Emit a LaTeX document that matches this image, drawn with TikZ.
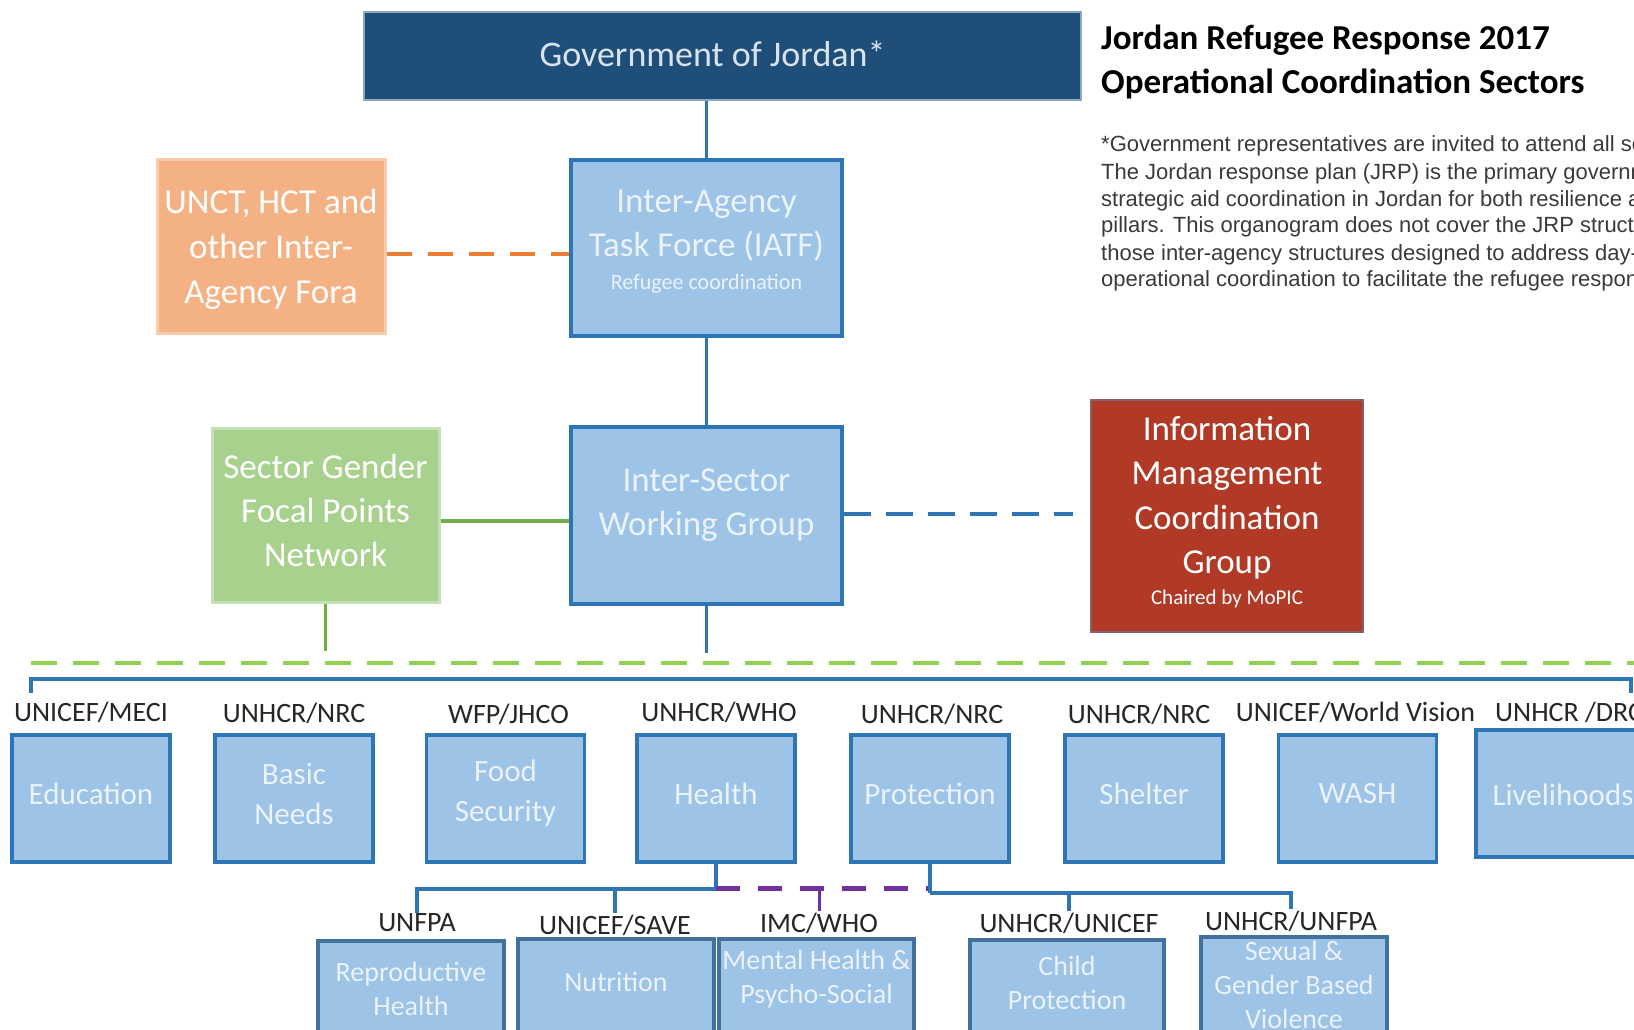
\documentclass[tikz,border=0pt]{standalone}
\usepackage{fontspec}
\setmainfont{Carlito}
\newfontfamily\notefont{Liberation Sans}
\usetikzlibrary{calc}
\definecolor{boxblue}{HTML}{9DC3E6}
\definecolor{lineblue}{HTML}{2E75B6}
\definecolor{darkline}{HTML}{41719C}
\definecolor{boxtext}{HTML}{EAF2FA}
\definecolor{govblue}{HTML}{1F4E79}
\definecolor{govedge}{HTML}{8EA6C2}
\definecolor{govtext}{HTML}{D9E3EE}
\definecolor{orangefill}{HTML}{F4B183}
\definecolor{orangeedge}{HTML}{F8CBAD}
\definecolor{orangeline}{HTML}{ED7D31}
\definecolor{greenfill}{HTML}{A9D18E}
\definecolor{greenedge}{HTML}{C5E0B4}
\definecolor{greenline}{HTML}{70AD47}
\definecolor{greendash}{HTML}{92D050}
\definecolor{redfill}{HTML}{B13A27}
\definecolor{rededge}{HTML}{86606E}
\definecolor{purpleline}{HTML}{7030A0}
\definecolor{lbltext}{HTML}{262626}
\definecolor{notetext}{HTML}{3A3A3A}
\tikzset{
  bluebox/.style={draw=lineblue, line width=3.5pt, fill=boxblue, inner sep=0pt},
  bigbox/.style={bluebox, minimum width=271, minimum height=176},
  bigtxt/.style={text=boxtext, align=center, inner sep=0pt, font=\fontsize{35}{44}\selectfont},
  secbox/.style={bluebox, minimum width=158, minimum height=127},
  sectxt/.style={text=boxtext, align=center, inner sep=0pt, font=\fontsize{31}{40}\selectfont, yshift=5pt},
  subbox/.style={bluebox, draw=darkline, anchor=north, minimum height=140},
  subtxt/.style={text=boxtext, align=center, inner sep=0pt, font=\fontsize{28}{34}\selectfont},
  lbl/.style={text=lbltext, inner sep=1pt, font=\fontsize{28}{32}\selectfont},
  conn/.style={draw=lineblue, line width=3.5pt},
  notes/.style={anchor=base west, inner sep=0pt, text=notetext, font=\notefont\fontsize{22}{27}\selectfont},
  ttl/.style={anchor=base west, inner sep=0pt, text=black, font=\bfseries\fontsize{35}{44}\selectfont}
}
\begin{document}
\begin{tikzpicture}[x=1pt,y=-1pt]
\useasboundingbox (0,0) rectangle (1634,1030);
\clip (0,0) rectangle (1634,1030);
\fill[white] (0,0) rectangle (1634,1030);

% top boxes
\node[draw=govedge, line width=2pt, fill=govblue, minimum width=717, minimum height=88, inner sep=0pt,
      label={[text=govtext, inner sep=0pt, font=\fontsize{36}{42}\selectfont, xshift=-10pt, yshift=2pt]center:Government of Jordan*}] (gov) at (722.5,56) {};
\node[bigbox, label={[bigtxt, yshift=6.5pt]center:Inter-Agency\\Task Force (IATF)\\[-11pt]{\fontsize{22}{26}\selectfont Refugee coordination}}] (iatf) at (706.5,248) {};
\node[draw=orangeedge, line width=3pt, fill=orangefill, inner sep=0pt, minimum width=228, minimum height=173,
      label={[text=white, align=center, inner sep=0pt, font=\fontsize{35}{45}\selectfont, yshift=-3pt]center:UNCT, HCT and\\other Inter-\\Agency Fora}] (unct) at (271,246.5) {};
\node[draw=greenedge, line width=3pt, fill=greenfill, inner sep=0pt, minimum width=227, minimum height=174,
      label={[text=white, align=center, inner sep=0pt, font=\fontsize{35}{44}\selectfont, yshift=5pt]center:Sector Gender\\Focal Points\\Network}] (sgfpn) at (325.5,515) {};
\node[bigbox, minimum height=177, label={[bigtxt, yshift=10.5pt]center:Inter-Sector\\Working Group}] (iswg) at (706.5,515.5) {};
\node[draw=rededge, line width=2pt, fill=redfill, inner sep=0pt, minimum width=272, minimum height=232,
      label={[text=white, align=center, inner sep=0pt, font=\fontsize{35}{44.5}\selectfont, yshift=4pt]center:Information\\Management\\Coordination\\Group\\[-14pt]{\fontsize{21}{26}\selectfont Chaired by MoPIC}}] (im) at (1227,516) {};

% title and note
\node[ttl] (t1) at (1101,50) {Jordan Refugee Response 2017};
\node[ttl] (t2) at (1101,94) {Operational Coordination Sectors};
\node[notes] (n1) at (1101,152) {*Government representatives are invited to attend all sector meetings.};
\node[notes] (n2) at (1101,179) {The Jordan response plan (JRP) is the primary government-led};
\node[notes] (n3) at (1101,206) {strategic aid coordination in Jordan for both resilience and};
\node[notes] (n4) at (1101,233) {pillars. This organogram does not cover the JRP structure};
\node[notes] (n5) at (1101,260) {those inter-agency structures designed to address day-to-day};
\node[notes] (n6) at (1101,286) {operational coordination to facilitate the refugee response.};

% upper connectors
\draw[conn] (iatf.north) -- (iatf.north |- gov.south);
\draw[conn] (iatf.south) -- (iswg.north);
\draw[draw=orangeline, line width=4.5pt, dash pattern=on 25pt off 16pt] (unct.east |- 0,254) -- (iatf.west |- 0,254);
\draw[draw=greenline, line width=3.5pt] (sgfpn.east |- 0,521) -- (iswg.west |- 0,521);
\coordinate (imend) at (1073,514);
\draw[draw=lineblue, line width=4pt, dash pattern=on 27pt off 15pt] (iswg.east |- imend) -- (imend);
\coordinate (gstop) at (327,651);
\draw[draw=greenline, line width=3.5pt] (sgfpn.south) -- (sgfpn.south |- gstop);
\coordinate (bstop) at (708,653);
\draw[conn] (iswg.south) -- (iswg.south |- bstop);

% bus lines
\coordinate (gdl) at (31,663);
\coordinate (gdr) at (1640,663);
\draw[draw=greendash, line width=4pt, dash pattern=on 26pt off 16pt] (gdl) -- (gdr);
\coordinate (bl) at (31,693);
\coordinate (br) at (1631,693);
\draw[conn] (bl) -- ++(0,-14) -| (br);

% sector boxes
\node[secbox, label={[sectxt]center:Education}] (edu) at (91,798.5) {};
\node[secbox, label={[sectxt]center:Basic\\Needs}] (bn) at (294,798.5) {};
\node[secbox, label={[sectxt]center:Food\\Security}] (fs) at (505.5,798.5) {};
\node[secbox, label={[sectxt]center:Health}] (health) at (716,798.5) {};
\node[secbox, label={[sectxt]center:Protection}] (prot) at (930,798.5) {};
\node[secbox, label={[sectxt]center:Shelter}] (shelter) at (1144,798.5) {};
\node[secbox, label={[sectxt]center:WASH}] (wash) at (1357.5,798.5) {};
\node[secbox, minimum width=174, label={[sectxt, yshift=-6pt]center:Livelihoods}] (liv) at (1563,793.5) {};

% sector labels
\node[lbl] (l-edu) at ($(edu.north)+(0,-21)$) {UNICEF/MECI};
\node[lbl] (l-bn) at ($(bn.north)+(0,-20)$) {UNHCR/NRC};
\node[lbl] (l-fs) at ($(fs.north)+(3,-19)$) {WFP/JHCO};
\node[lbl] (l-health) at ($(health.north)+(3,-21)$) {UNHCR/WHO};
\node[lbl] (l-prot) at ($(prot.north)+(2,-19)$) {UNHCR/NRC};
\node[lbl] (l-shelter) at ($(shelter.north)+(-5,-19)$) {UNHCR/NRC};
\node[lbl] (l-wash) at ($(wash.north)+(-2,-21)$) {UNICEF/World Vision};
\node[lbl, anchor=west] (l-liv) at (1494,712) {UNHCR /DRC};

% sub boxes
\node[subbox, minimum width=186] (rh) at (411,939) {};
\node[subbox, minimum width=196] (nut) at (616,937) {};
\node[subbox, minimum width=195] (mh) at (816.5,937) {};
\node[subbox, minimum width=194] (cp) at (1067,938) {};
\node[subbox, minimum width=186] (sgbv) at (1294,935) {};
\node[subtxt] (t-rh) at ($(rh.north)+(0,49.5)$) {Reproductive\\Health};
\node[subtxt] (t-nut) at ($(nut.north)+(0,45)$) {Nutrition};
\node[subtxt] (t-mh) at ($(mh.north)+(0,42.5)$) {Mental Health \&\\Psycho-Social};
\node[subtxt] (t-cp) at ($(cp.north)+(0,44.5)$) {Child\\Protection};
\node[subtxt] (t-sgbv) at ($(sgbv.north)+(0,50)$) {Sexual \&\\Gender Based\\Violence};

% sub labels
\node[lbl] (l-rh) at (417,923) {UNFPA};
\node[lbl] (l-nut) at (615,925) {UNICEF/SAVE};
\node[lbl] (l-mh) at (819,923) {IMC/WHO};
\node[lbl] (l-cp) at (1069,923) {UNHCR/UNICEF};
\node[lbl] (l-sgbv) at (1291,921) {UNHCR/UNFPA};

% sub connectors
\draw[conn] (health.south) -- ++(0,25) coordinate (hj);
\draw[conn] (hj) -| (l-rh.north);
\draw[conn] (hj) -| (l-nut.north);
\draw[draw=purpleline, line width=5pt, dash pattern=on 24pt off 18pt] (hj) -- (hj -| prot.south);
\draw[draw=purpleline, line width=3pt] (l-mh.north) -- (l-mh.north |- hj);
\draw[conn] (prot.south) -- ++(0,29) coordinate (pj);
\draw[conn] (pj) -| (l-cp.north);
\draw[conn] (pj) -| (l-sgbv.north);
\end{tikzpicture}
\end{document}
